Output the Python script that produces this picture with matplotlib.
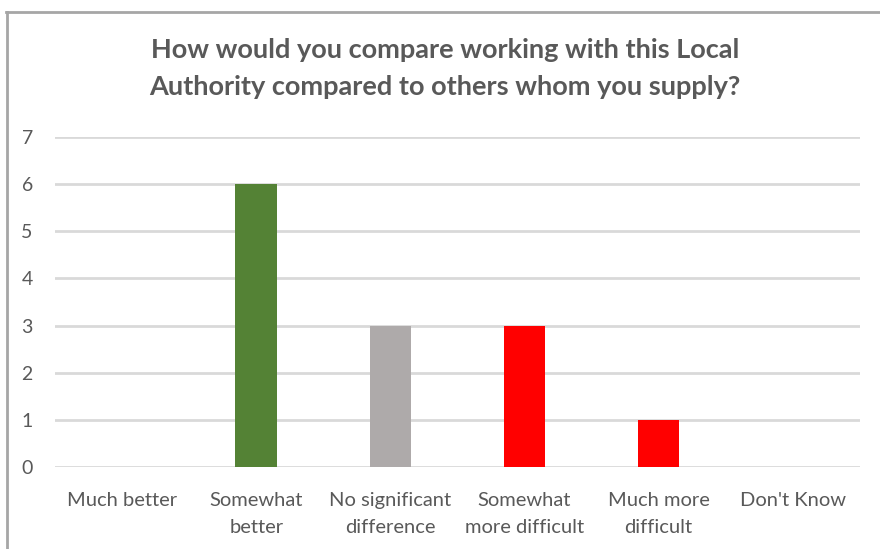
import matplotlib.pyplot as plt
from matplotlib.lines import Line2D
import numpy as np

plt.rcParams['font.family'] = ['Lato', 'DejaVu Sans']

categories = ['Much better', 'Somewhat\nbetter', 'No significant\ndifference',
              'Somewhat\nmore difficult', 'Much more\ndifficult', "Don't Know"]
counts = [0, 6, 3, 3, 1, 0]
colors = ['#548235', '#548235', '#AEAAAA', '#FF0000', '#FF0000', '#FF0000']
yticks = [0, 1, 2, 3, 4, 5, 6, 7]

fig = plt.figure(figsize=(8.8, 5.49), dpi=100)
ax = fig.add_axes([0.0625, 0.1494, 0.9145, 0.6011])

x = np.arange(len(categories))
ax.bar(x, counts, width=0.31, color=colors, zorder=3)

ax.set_xlim(-0.5, len(categories) - 0.5)
ax.set_ylim(0, 7)
ax.set_yticks(yticks)
ax.set_xticks(x)
ax.set_xticklabels(categories, fontsize=14.5, color='#595959', linespacing=1.75)
ax.tick_params(axis='y', labelsize=14, labelcolor='#595959', length=0, pad=16)
ax.tick_params(axis='x', length=0, pad=18)
ax.grid(axis='y', color='#D9D9D9', linewidth=2, zorder=0)
ax.set_axisbelow(True)
for s in ax.spines.values():
    s.set_visible(False)

fig.text(0.506, 0.875, 'How would you compare working with this Local\nAuthority compared to others whom you supply?',
         ha='center', va='center', fontsize=19.5, fontweight='bold', color='#595959', linespacing=1.65)

# chart frame (cropped)
fig.add_artist(Line2D([0.007, 1.0], [0.978, 0.978], transform=fig.transFigure, color='#A6A6A6', linewidth=2))
fig.add_artist(Line2D([0.008, 0.008], [0.0, 0.978], transform=fig.transFigure, color='#A6A6A6', linewidth=2))

fig.savefig('out.png', dpi=100, facecolor='white')
